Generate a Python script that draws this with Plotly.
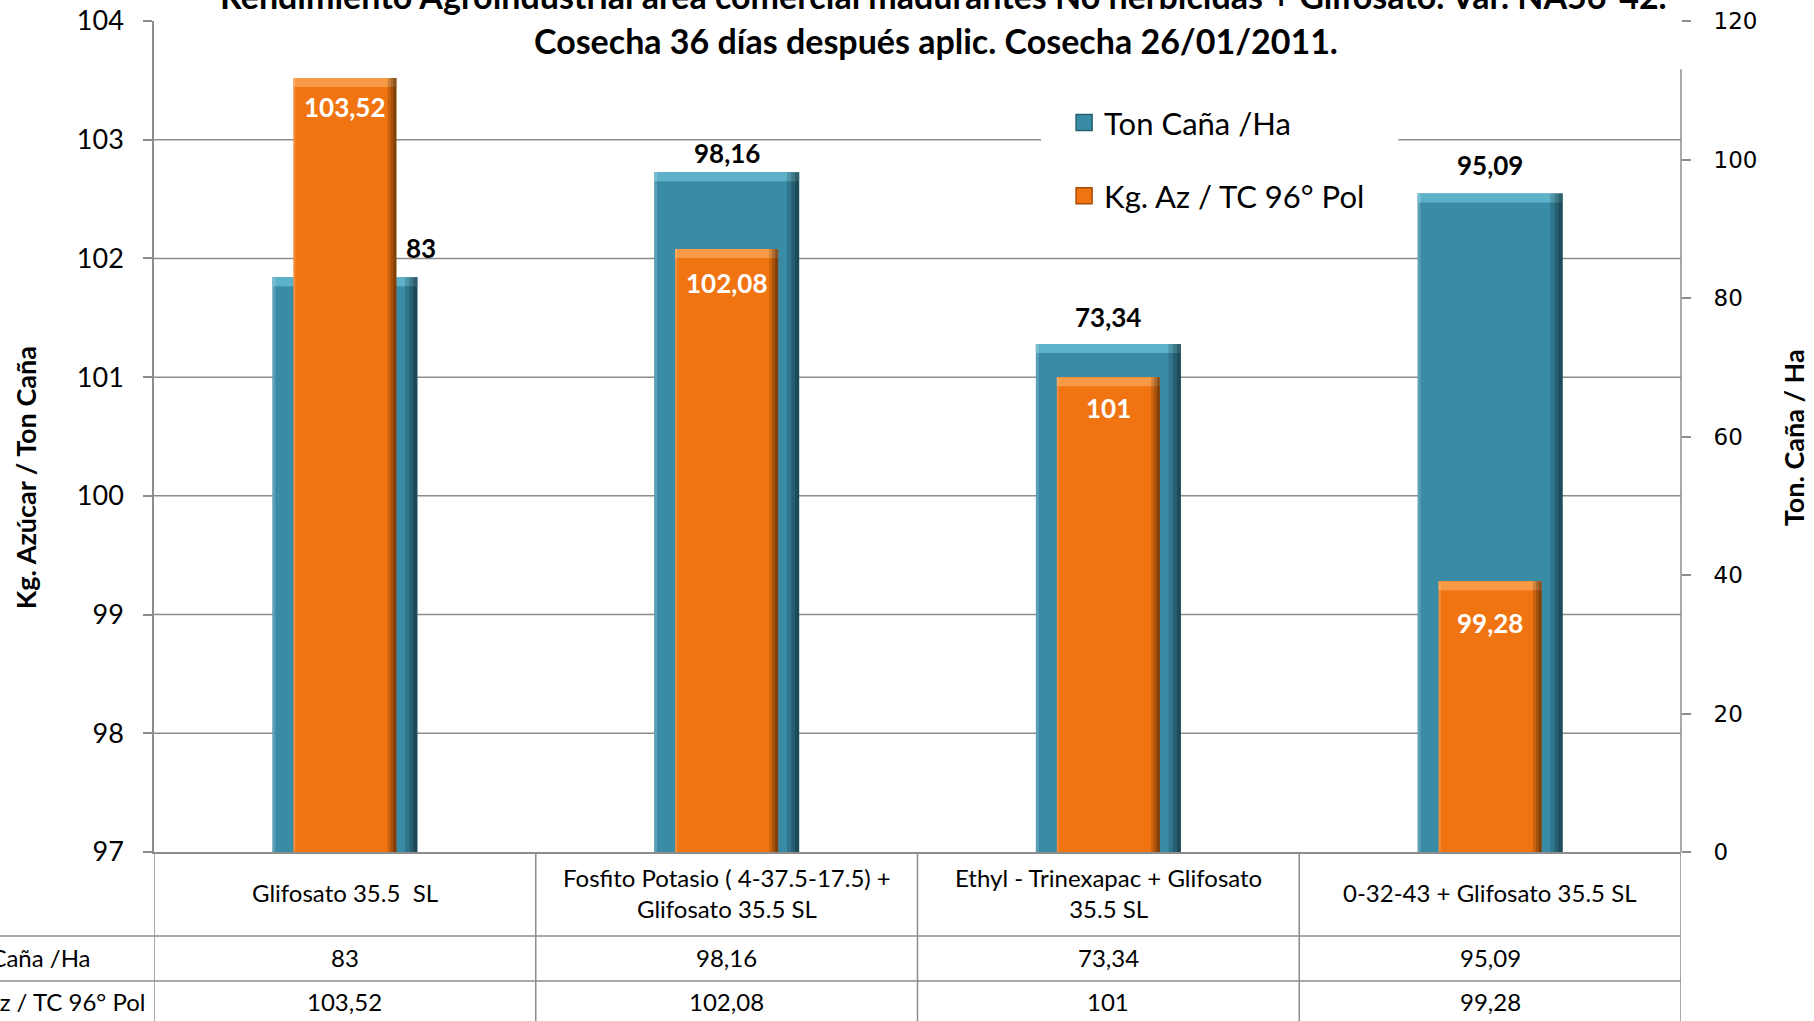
import plotly.graph_objects as go

# ---------------- data ----------------
categories = [
    "Glifosato 35.5  SL",
    "Fosfito Potasio ( 4-37.5-17.5) +<br>Glifosato 35.5 SL",
    "Ethyl - Trinexapac + Glifosato<br>35.5 SL",
    "0-32-43 + Glifosato 35.5 SL",
]
series_names = ["Ton Caña /Ha", "Kg. Az / TC 96° Pol"]
ton_cana = [83, 98.16, 73.34, 95.09]
kg_az = [103.52, 102.08, 101, 99.28]
ton_labels = ["83", "98,16", "73,34", "95,09"]
kg_labels = ["103,52", "102,08", "101", "99,28"]
left_ticks = [97, 98, 99, 100, 101, 102, 103, 104]
left_grid = [98, 99, 100, 101, 102, 103]
right_ticks = [0, 20, 40, 60, 80, 100, 120]
title_lines = [
    "Rendimiento Agroindustrial área comercial madurantes No herbicidas + Glifosato. Var. NA56-42.",
    "Cosecha 36 días después aplic. Cosecha 26/01/2011.",
]
left_title = "Kg. Azúcar / Ton Caña"
right_title = "Ton. Caña / Ha"

# ---------------- style ----------------
TEAL = "#3a8ca6"
TEAL_TOP = "#5db2c9"
ORANGE = "#f07512"
ORANGE_TOP = "#f89a45"
GRID = "#8c8c8c"
FONT = "Lato, 'Open Sans', sans-serif"
ton_label_dx = [76, 0, 0, 0]
ton_label_dy = [10, 0, 8, 10]
kg_label_dy = [5, 0, 3, -8]
colors = [TEAL, ORANGE]
W_TEAL, W_ORANGE = 0.38, 0.27
PLOT_H = 1021 - 21 - 169
BEVEL_PX = 9
Y_RANGE = [0, 120]
Y2_RANGE = [97, 104]
band_y = BEVEL_PX / PLOT_H * (Y_RANGE[1] - Y_RANGE[0])
band_y2 = BEVEL_PX / PLOT_H * (Y2_RANGE[1] - Y2_RANGE[0])


def bevel_traces(values, width, axis, band, top_color):
    tr = []
    # lighter top band
    tr.append(go.Bar(x=categories, y=[band] * len(values), base=[v - band for v in values],
                     width=width, yaxis=axis, marker=dict(color=top_color, line=dict(width=0)),
                     showlegend=False, hoverinfo="skip"))
    # dark gradient on the right edge
    for frac, alpha in [(0.085, 0.16), (0.055, 0.18), (0.028, 0.22)]:
        tr.append(go.Bar(x=categories, y=values, width=width * frac,
                         offset=width / 2 - width * frac, yaxis=axis,
                         marker=dict(color="rgba(0,0,0,%s)" % alpha, line=dict(width=0)),
                         showlegend=False, hoverinfo="skip"))
    # slight light line on the left edge
    tr.append(go.Bar(x=categories, y=values, width=width * 0.02, offset=-width / 2, yaxis=axis,
                     marker=dict(color="rgba(255,255,255,0.18)", line=dict(width=0)),
                     showlegend=False, hoverinfo="skip"))
    return tr


fig = go.Figure()
fig.add_trace(go.Bar(
    x=categories, y=ton_cana, name=series_names[0], yaxis="y",
    width=W_TEAL, showlegend=False,
    marker=dict(color=TEAL, line=dict(width=0)),
    hoverinfo="skip",
))
for t in bevel_traces(ton_cana, W_TEAL, "y", band_y, TEAL_TOP):
    fig.add_trace(t)
fig.add_trace(go.Bar(
    x=categories, y=kg_az, name=series_names[1], yaxis="y2",
    width=W_ORANGE, showlegend=False,
    marker=dict(color=ORANGE, line=dict(width=0)),
    hoverinfo="skip",
))
for t in bevel_traces(kg_az, W_ORANGE, "y2", band_y2, ORANGE_TOP):
    fig.add_trace(t)
# legend entries with larger square keys
for k, nm in enumerate(series_names):
    fig.add_trace(go.Scatter(
        x=[None], y=[None], mode="markers", name=nm, legendgroup=nm,
        marker=dict(symbol="square", size=20, color=colors[k],
                    line=dict(color=["#24606f", "#a84c08"][k], width=1.5)),
    ))

annotations = []
# title (two lines)
annotations.append(dict(text="<b>%s</b>" % title_lines[0], xref="paper", yref="paper",
                        x=0.517, y=1.031, xanchor="center", yanchor="middle",
                        showarrow=False, font=dict(size=34, family=FONT, color="black")))
annotations.append(dict(text="<b>%s</b>" % title_lines[1], xref="paper", yref="paper",
                        x=0.512, y=0.976, xanchor="center", yanchor="middle",
                        showarrow=False, font=dict(size=34, family=FONT, color="black")))
# axis titles
annotations.append(dict(text="<b>%s</b>" % left_title, xref="paper", yref="paper",
                        x=-0.0845, y=0.451, textangle=-90, showarrow=False,
                        xanchor="center", yanchor="middle",
                        font=dict(size=27, family=FONT, color="black")))
annotations.append(dict(text="<b>%s</b>" % right_title, xref="paper", yref="paper",
                        x=1.0734, y=0.498, textangle=-90, showarrow=False,
                        xanchor="center", yanchor="middle",
                        font=dict(size=27, family=FONT, color="black")))
# data labels
for i, c in enumerate(categories):
    annotations.append(dict(text="<b>%s</b>" % ton_labels[i], x=c, y=ton_cana[i],
                            xref="x", yref="y", yanchor="bottom", xanchor="center",
                            xshift=ton_label_dx[i], yshift=1 + ton_label_dy[i],
                            showarrow=False, font=dict(size=26, family=FONT, color="black")))
    annotations.append(dict(text="<b>%s</b>" % kg_labels[i], x=c, y=kg_az[i],
                            xref="x", yref="y2", yanchor="top", xanchor="center",
                            yshift=-16 + kg_label_dy[i], showarrow=False,
                            font=dict(size=26, family=FONT, color="white")))
# data table
row_y = [-0.0493, -0.1264, -0.1805]
for i, c in enumerate(categories):
    annotations.append(dict(text=c, x=c, y=row_y[0], xref="x", yref="paper",
                            xanchor="center", yanchor="middle", showarrow=False,
                            font=dict(size=24, family=FONT, color="black")))
    annotations.append(dict(text=ton_labels[i], x=c, y=row_y[1], xref="x", yref="paper",
                            xanchor="center", yanchor="middle", showarrow=False,
                            font=dict(size=24, family=FONT, color="black")))
    annotations.append(dict(text=kg_labels[i], x=c, y=row_y[2], xref="x", yref="paper",
                            xanchor="center", yanchor="middle", showarrow=False,
                            font=dict(size=24, family=FONT, color="black")))
annotations.append(dict(text=series_names[0], x=-0.040, y=row_y[1], xref="paper", yref="paper",
                        xanchor="right", yanchor="middle", showarrow=False,
                        font=dict(size=24, family=FONT, color="black")))
annotations.append(dict(text=series_names[1], x=-0.0046, y=row_y[2], xref="paper", yref="paper",
                        xanchor="right", yanchor="middle", showarrow=False,
                        font=dict(size=24, family=FONT, color="black")))

shapes = []
# gridlines of the left axis
for g in left_grid:
    shapes.append(dict(type="line", xref="paper", yref="y2", x0=0, x1=1, y0=g, y1=g,
                       line=dict(color=GRID, width=1.5), layer="below"))
# white area behind the legend (interrupts the gridline)
shapes.append(dict(type="rect", xref="paper", yref="paper", x0=0.581, x1=0.815,
                   y0=0.80, y1=0.93, fillcolor="white", line=dict(width=0), layer="below"))
# table lines
table_h = [-0.1011, -0.1552]
for yy in table_h:
    shapes.append(dict(type="line", xref="paper", yref="paper", x0=-0.11, x1=1, y0=yy, y1=yy,
                       line=dict(color=GRID, width=1.5)))
for k in range(len(categories) + 1):
    shapes.append(dict(type="line", xref="x", yref="paper", x0=k - 0.5, x1=k - 0.5,
                       y0=0, y1=-0.25, line=dict(color=GRID, width=1.5)))
# right axis line
shapes.append(dict(type="line", xref="paper", yref="paper", x0=1, x1=1, y0=0.942, y1=0,
                   line=dict(color=GRID, width=1.5)))

fig.update_layout(
    width=1814, height=1021,
    margin=dict(l=154, r=133, t=21, b=169, autoexpand=False),
    paper_bgcolor="white", plot_bgcolor="rgba(0,0,0,0)",
    barmode="overlay",
    font=dict(family=FONT, color="black"),
    xaxis=dict(range=[-0.5, 3.5], showticklabels=False, ticks="", showgrid=False,
               showline=True, linecolor=GRID, linewidth=1.5, zeroline=False, fixedrange=True),
    yaxis=dict(range=Y_RANGE, side="right", tickvals=right_ticks, ticks="outside",
               ticklen=9, tickwidth=1.5, tickcolor=GRID, showgrid=False, zeroline=False,
               showline=False, ticklabelstandoff=18,
               tickfont=dict(family="DejaVu Sans", size=23, color="black")),
    yaxis2=dict(range=Y2_RANGE, overlaying="y", side="left", tickvals=left_ticks,
                ticks="outside", ticklen=9, tickwidth=1.5, tickcolor=GRID,
                showgrid=False, zeroline=False, showline=True, linecolor=GRID, linewidth=1.5,
                ticklabelstandoff=14, tickfont=dict(family=FONT, size=27, color="black")),
    legend=dict(x=0.596, y=0.91, xanchor="left", yanchor="top", bgcolor="white",
                font=dict(size=31, family=FONT, color="black"),
                traceorder="grouped", tracegroupgap=30, itemsizing="trace"),
    annotations=annotations,
    shapes=shapes,
)

fig.write_html("out.html", config={"displayModeBar": False},
               post_script="document.body.style.margin='0';")
